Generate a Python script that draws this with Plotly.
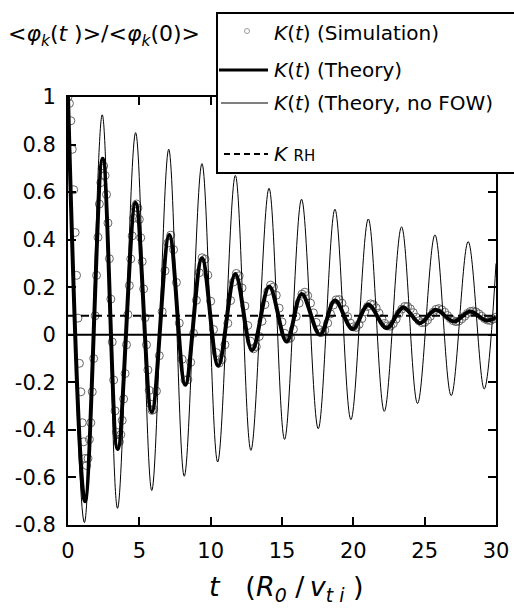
import plotly.graph_objects as go

# ---------------- data ----------------
# K(t) theory without finite-orbit-width: extrema of the oscillation
thin_t = [0.0, 1.15, 2.40, 3.47, 4.74, 5.87, 7.06, 8.15, 9.39, 10.49, 11.73, 12.82, 14.09,
          15.18, 16.37, 17.54, 18.71, 19.83, 21.05, 22.17, 23.38, 24.50, 25.72, 26.86,
          28.05, 29.17, 30.0]
thin_v = [1.0, -0.79, 0.925, -0.73, 0.85, -0.655, 0.78, -0.595, 0.72, -0.535, 0.67, -0.486,
          0.616, -0.44, 0.57, -0.395, 0.528, -0.357, 0.487, -0.322, 0.454, -0.289, 0.42,
          -0.256, 0.392, -0.228, 0.30]

# K(t) theory (with FOW): extrema of the damped oscillation
thick_t = [0.0, 1.19, 2.43, 3.48, 4.74, 5.87, 7.10, 8.22, 9.39, 10.53, 11.73, 12.90, 14.11,
           15.32, 16.38, 17.66, 18.71, 19.95, 21.05, 22.33, 23.50, 24.67, 25.77, 27.05,
           28.17, 29.34, 30.0]
thick_v = [1.0, -0.70, 0.74, -0.48, 0.555, -0.325, 0.42, -0.21, 0.322, -0.13, 0.256, -0.065,
           0.203, -0.028, 0.172, 0.0, 0.144, 0.024, 0.126, 0.028, 0.115, 0.049, 0.105, 0.056,
           0.098, 0.06, 0.074]

# K(t) simulation samples
sim_t = [0.0, 0.1, 0.2, 0.3, 0.4, 0.5, 0.6, 0.7, 0.8, 0.9,
         1.0, 1.1, 1.2, 1.3, 1.4, 1.5, 1.6, 1.7, 1.8, 1.9,
         2.0, 2.1, 2.2, 2.3, 2.4, 2.5, 2.6, 2.7, 2.8, 2.9,
         3.0, 3.1, 3.2, 3.3, 3.4, 3.5, 3.6, 3.7, 3.8, 3.9,
         4.0, 4.1, 4.2, 4.3, 4.4, 4.5, 4.6, 4.7, 4.8, 4.9,
         5.0, 5.1, 5.2, 5.3, 5.4, 5.5, 5.6, 5.7, 5.8, 5.9,
         6.0, 6.2, 6.4, 6.6, 6.8, 7.0, 7.2, 7.4, 7.6, 7.8,
         8.0, 8.2, 8.4, 8.6, 8.8, 9.0, 9.2, 9.4, 9.6, 9.8,
         10.0, 10.2, 10.4, 10.6, 10.8, 11.0, 11.2, 11.4, 11.6, 11.8,
         12.0, 12.2, 12.4, 12.6, 12.8, 13.0, 13.2, 13.4, 13.6, 13.8,
         14.0, 14.2, 14.4, 14.6, 14.8, 15.0, 15.2, 15.4, 15.6, 15.8,
         16.0, 16.2, 16.4, 16.6, 16.8, 17.0, 17.2, 17.4, 17.6, 17.8,
         18.0, 18.2, 18.4, 18.6, 18.8, 19.0, 19.2, 19.4, 19.6, 19.8,
         20.0, 20.2, 20.4, 20.6, 20.8, 21.0, 21.2, 21.4, 21.6, 21.8,
         22.0, 22.2, 22.4, 22.6, 22.8, 23.0, 23.2, 23.4, 23.6, 23.8,
         24.0, 24.2, 24.4, 24.6, 24.8, 25.0, 25.2, 25.4, 25.6, 25.8,
         26.0, 26.2, 26.4, 26.6, 26.8, 27.0, 27.2, 27.4, 27.6, 27.8,
         28.0, 28.2, 28.4, 28.6, 28.8, 29.0, 29.2, 29.4, 29.6, 29.8, 30.0]
sim_y = [1.0, 0.973, 0.90, 0.78, 0.61, 0.43, 0.25, 0.07, -0.12, -0.24,
         -0.37, -0.45, -0.52, -0.55, -0.52, -0.44, -0.37, -0.24, -0.10, 0.08,
         0.25, 0.41, 0.55, 0.64, 0.70, 0.71, 0.67, 0.59, 0.47, 0.32,
         0.15, -0.03, -0.19, -0.32, -0.41, -0.45, -0.45, -0.42, -0.36, -0.27,
         -0.163, -0.042, 0.085, 0.207, 0.319, 0.416, 0.49, 0.535, 0.55, 0.533,
         0.485, 0.408, 0.308, 0.193, 0.072, -0.042, -0.148, -0.234, -0.292, -0.318,
         -0.314, -0.237, -0.088, 0.097, 0.269, 0.386, 0.419, 0.358, 0.22, 0.049,
         -0.103, -0.19, -0.189, -0.116, 0.006, 0.145, 0.261, 0.324, 0.318, 0.251,
         0.141, 0.022, -0.075, -0.119, -0.104, -0.042, 0.048, 0.144, 0.222, 0.258,
         0.248, 0.197, 0.121, 0.039, -0.027, -0.059, -0.05, -0.007, 0.057, 0.127,
         0.182, 0.209, 0.201, 0.166, 0.112, 0.054, 0.006, -0.018, -0.013, 0.023,
         0.077, 0.133, 0.171, 0.179, 0.164, 0.133, 0.092, 0.052, 0.022, 0.01,
         0.019, 0.049, 0.088, 0.125, 0.147, 0.148, 0.133, 0.107, 0.076, 0.049,
         0.033, 0.031, 0.044, 0.068, 0.096, 0.119, 0.13, 0.127, 0.113, 0.091,
         0.068, 0.048, 0.037, 0.036, 0.047, 0.066, 0.089, 0.108, 0.119, 0.119,
         0.109, 0.093, 0.074, 0.059, 0.051, 0.052, 0.062, 0.078, 0.095, 0.107,
         0.11, 0.105, 0.095, 0.081, 0.068, 0.059, 0.055, 0.058, 0.067, 0.078,
         0.09, 0.098, 0.10, 0.096, 0.088, 0.078, 0.068, 0.062, 0.06, 0.066, 0.074]

zero_level = 0.0
k_rh = 0.08
t_span = [0.0, 30.0]

x_ticks = [0, 5, 10, 15, 20, 25, 30]
y_ticks = [-0.8, -0.6, -0.4, -0.2, 0.0, 0.2, 0.4, 0.6, 0.8, 1.0]
y_ticklabels = ["-0.8", "-0.6", "-0.4", "-0.2", "0", "0.2", "0.4", "0.6", "0.8", "1"]

legend_labels = ["<i>K</i>(<i>t</i>) (Simulation)",
                 "<i>K</i>(<i>t</i>) (Theory)",
                 "<i>K</i>(<i>t</i>) (Theory, no FOW)",
                 "<i>K</i> <span style='font-size:15px'>RH</span>"]

# ---------------- layout geometry (page pixels) ----------------
W, H = 514, 615
L, R, T, B = 68, 496, 97, 525
FONT = "DejaVu Sans"


def px(x):
    return (x - L) / (R - L)


def py(y):
    return (B - y) / (B - T)


fig = go.Figure()
fig.add_trace(go.Scatter(x=sim_t, y=sim_y, mode="markers",
                         marker=dict(symbol="circle-open", size=8, color="#666666",
                                     line=dict(width=1)),
                         showlegend=False))
fig.add_trace(go.Scatter(x=thin_t, y=thin_v, mode="lines",
                         line=dict(color="black", width=1, shape="spline", smoothing=1.0),
                         showlegend=False))
fig.add_trace(go.Scatter(x=thick_t, y=thick_v, mode="lines",
                         line=dict(color="black", width=4, shape="spline", smoothing=1.0),
                         showlegend=False))
fig.add_trace(go.Scatter(x=t_span, y=[zero_level, zero_level], mode="lines",
                         line=dict(color="black", width=2), showlegend=False))
fig.add_trace(go.Scatter(x=t_span, y=[k_rh, k_rh], mode="lines",
                         line=dict(color="black", width=2, dash="8px,5px"), showlegend=False))

axis_common = dict(showgrid=False, zeroline=False, showline=True, linecolor="black",
                   linewidth=2, mirror="ticks", ticks="inside", ticklen=8, tickwidth=1.5,
                   tickcolor="black", ticklabeloverflow="allow", automargin=False,
                   tickfont=dict(family=FONT, size=21, color="black"))
fig.update_xaxes(range=[0, 30], tickvals=x_ticks, ticklabelstandoff=6, **axis_common)
fig.update_yaxes(range=[-0.8, 1.0], tickvals=y_ticks, ticktext=y_ticklabels,
                 ticklabelstandoff=6, **axis_common)

shapes = []
# legend box (runs off the right edge of the picture)
shapes.append(dict(type="rect", xref="paper", yref="paper", x0=px(217), x1=px(W + 3),
                   y0=py(173), y1=py(13), line=dict(color="black", width=2),
                   fillcolor="white", layer="above"))
# legend samples
shapes.append(dict(type="circle", xref="paper", yref="paper", x0=px(244.5), x1=px(249.5),
                   y0=py(33.5), y1=py(28.5), line=dict(color="#9a9a9a", width=1),
                   layer="above"))
shapes.append(dict(type="line", xref="paper", yref="paper", x0=px(219), x1=px(268),
                   y0=py(70), y1=py(70), line=dict(color="black", width=3), layer="above"))
shapes.append(dict(type="line", xref="paper", yref="paper", x0=px(221), x1=px(268),
                   y0=py(103), y1=py(103), line=dict(color="black", width=1), layer="above"))
shapes.append(dict(type="line", xref="paper", yref="paper", x0=px(224), x1=px(268),
                   y0=py(154), y1=py(154), line=dict(color="black", width=2, dash="6px,4px"),
                   layer="above"))
fig.update_layout(shapes=shapes)

annotations = []
for lab, yy in zip(legend_labels, [33, 70, 103, 154]):
    annotations.append(dict(text=lab, xref="paper", yref="paper", x=px(272), y=py(yy),
                            xanchor="left", yanchor="middle", showarrow=False,
                            font=dict(family=FONT, size=20, color="black")))
annotations.append(dict(
    text="&lt;<i>φ</i><sub><i>k</i></sub>(<i>t</i> )&gt;/&lt;<i>φ</i><sub><i>k</i></sub>(0)&gt;",
    xref="paper", yref="paper", x=px(6), y=py(36), xanchor="left", yanchor="middle",
    showarrow=False, font=dict(family=FONT, size=22, color="black")))
annotations.append(dict(
    text="<i>t</i>\u00a0\u00a0\u00a0(<i>R</i><sub><i>0</i></sub>\u00a0/\u2009<i>v</i>"
         "<sub><i>t\u00a0i</i></sub>\u00a0)",
    xref="paper", yref="paper", x=px(286), y=py(588), xanchor="center", yanchor="middle",
    showarrow=False, font=dict(family=FONT, size=27, color="black")))
fig.update_layout(annotations=annotations)

fig.update_layout(width=W, height=H, autosize=False,
                  margin=dict(l=L, r=W - R, t=T, b=H - B),
                  plot_bgcolor="white", paper_bgcolor="white", showlegend=False)

# remove the browser's default 8px page margin so the figure sits at the page origin
fig.write_html("out.html", config={"displayModeBar": False},
               post_script="document.body.style.margin='0';"
                           "document.body.style.overflow='hidden';")
